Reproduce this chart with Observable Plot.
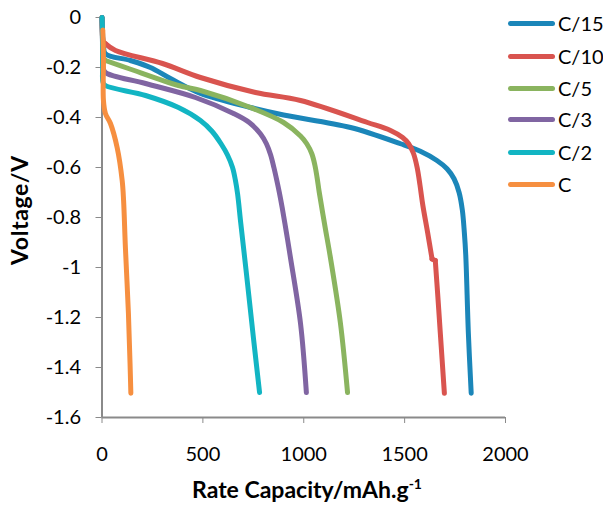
<!DOCTYPE html>
<html><head><meta charset="utf-8">
<script src="https://cdn.jsdelivr.net/npm/d3@7"></script>
<script src="https://cdn.jsdelivr.net/npm/@observablehq/plot@0.6"></script>
<style>
body{margin:0;background:#fff;}
#wrap{position:relative;width:603px;height:507px;font-family:Lato,sans-serif;color:#000;}
#wrap svg{position:absolute;left:0;top:0;}
.xtitle{position:absolute;left:307px;top:489px;transform:translate(-50%,-50%);font-weight:bold;font-size:23px;white-space:nowrap;}
.xtitle sup{font-size:14px;vertical-align:9px;line-height:0;}
.ytitle{position:absolute;left:19px;top:210px;transform:translate(-50%,-50%) rotate(-90deg);font-weight:bold;font-size:23px;letter-spacing:0.6px;white-space:nowrap;}
.legend{position:absolute;left:508px;top:0;}
.li{position:absolute;left:0;width:120px;height:24px;font-size:20px;white-space:nowrap;}
.li .sw{position:absolute;left:0;top:9.5px;width:47px;height:5px;border-radius:3px;}
.li .tx{position:absolute;left:50px;top:0;line-height:24px;}
</style></head><body><div id="wrap"></div>
<script>
const seriesNames = ["C/15", "C/10", "C/5", "C/3", "C/2", "C"];
const seriesColors = ["#1b86b9", "#d9544f", "#8ab45f", "#8065a2", "#12b5c3", "#f68f40"];
const xTicks = [0, 500, 1000, 1500, 2000];
const yTicks = [0, -0.2, -0.4, -0.6, -0.8, -1, -1.2, -1.4, -1.6];

// [capacity, voltage] pairs
const c15 = [[0,0],[2,-0.05],[7,-0.11],[17,-0.145],[141,-0.172],[240,-0.2],[339,-0.244],[488,-0.304],[736,-0.36],[900,-0.39],[1232,-0.44],[1480,-0.505],[1578,-0.535],[1660,-0.572],[1710,-0.605],[1745,-0.645],[1770,-0.7],[1786,-0.77],[1796,-0.86],[1803,-0.95],[1816,-1.264],[1830,-1.503]];
const c10 = [[0,0],[3,-0.08],[7,-0.1],[17,-0.105],[67,-0.132],[300,-0.184],[488,-0.24],[761,-0.3],[984,-0.332],[1316,-0.42],[1430,-0.452],[1490,-0.48],[1520,-0.505],[1544,-0.544],[1562,-0.6],[1576,-0.67],[1590,-0.75],[1614,-0.86],[1636,-0.966],[1652,-0.972],[1665,-1.12],[1677,-1.264],[1697,-1.503]];
const c5 = [[0,0],[3,-0.1],[7,-0.165],[17,-0.172],[131,-0.204],[379,-0.272],[488,-0.292],[736,-0.36],[900,-0.42],[984,-0.474],[1015,-0.505],[1040,-0.545],[1055,-0.59],[1066,-0.64],[1077,-0.7],[1104,-0.83],[1132,-0.96],[1182,-1.224],[1217,-1.5]];
const c3 = [[0,0],[3,-0.12],[6,-0.2],[17,-0.22],[216,-0.264],[463,-0.32],[652,-0.384],[730,-0.42],[786,-0.466],[815,-0.505],[836,-0.55],[852,-0.6],[866,-0.65],[879,-0.7],[893,-0.76],[914,-0.86],[934,-0.96],[984,-1.224],[1013,-1.5]];
const c2 = [[0,0],[2,-0.05],[3,-0.2],[5,-0.26],[17,-0.272],[216,-0.312],[379,-0.36],[488,-0.412],[545,-0.455],[590,-0.505],[622,-0.55],[647,-0.6],[661,-0.65],[672,-0.705],[688,-0.824],[716,-1.025],[752,-1.292],[781,-1.5]];
const c1 = [[4,-0.05],[7,-0.17],[7,-0.33],[17,-0.384],[42,-0.424],[75,-0.52],[100,-0.652],[107,-0.732],[116,-0.92],[131,-1.184],[139,-1.384],[143,-1.503]];

const seriesData = [c15, c10, c5, c3, c2, c1];

// split a series where it takes a small near-horizontal step (the C/10 jog)
function pieces(pts) {
  const out = [];
  let cur = [pts[0]];
  for (let k = 1; k < pts.length; k++) {
    const [x0, y0] = pts[k - 1], [x1, y1] = pts[k];
    if (Math.abs(y1 - y0) < 0.01 && x1 - x0 > 5 && x1 - x0 < 30) {
      out.push({pts: cur, curve: "catmull-rom"});
      out.push({pts: [pts[k - 1], pts[k]], curve: "linear"});
      cur = [pts[k]];
    } else cur.push(pts[k]);
  }
  out.push({pts: cur, curve: "catmull-rom"});
  return out;
}

const lineMarks = seriesData.flatMap((pts, i) =>
  pieces(pts).map(p =>
    Plot.line(p.pts.map(([cap, volt]) => ({series: seriesNames[i], cap, volt})), {
      x: "cap", y: "volt", stroke: seriesColors[i], strokeWidth: 5,
      strokeLinecap: "round", strokeLinejoin: "round", curve: p.curve
    })
  )
);

const chart = Plot.plot({
  width: 603, height: 507,
  marginLeft: 101.5, marginRight: 98, marginTop: 17, marginBottom: 90,
  style: {fontFamily: "Lato, sans-serif", fontSize: "20px", background: "transparent", color: "#000"},
  x: {domain: [0, 2000], label: null},
  y: {domain: [-1.6, 0], label: null},
  marks: [
    Plot.axisX({ticks: xTicks, tickFormat: d => String(d), tickSize: 6, tickPadding: 23, stroke: "#8a8a8a", label: null}),
    Plot.axisY({ticks: yTicks, tickFormat: d => String(d), tickSize: 6, tickPadding: 15, stroke: "#8a8a8a", label: null}),
    Plot.ruleX([0], {stroke: "#8a8a8a", strokeWidth: 2}),
    Plot.ruleY([-1.6], {stroke: "#8a8a8a", strokeWidth: 2}),
    ...lineMarks
  ]
});

const wrap = document.getElementById("wrap");
wrap.appendChild(chart);

const xt = document.createElement("div");
xt.className = "xtitle";
xt.innerHTML = "Rate Capacity/mAh.g<sup>-1</sup>";
wrap.appendChild(xt);
const yt = document.createElement("div");
yt.className = "ytitle";
yt.textContent = "Voltage/V";
wrap.appendChild(yt);

const legendTops = [23, 56, 88, 119, 152, 184];
const lg = document.createElement("div");
lg.className = "legend";
seriesNames.forEach((name, i) => {
  const li = document.createElement("div");
  li.className = "li";
  li.style.top = (legendTops[i] - 12) + "px";
  li.innerHTML = `<div class="sw" style="background:${seriesColors[i]}"></div><div class="tx">${name}</div>`;
  lg.appendChild(li);
});
wrap.appendChild(lg);
</script>
</body></html>
